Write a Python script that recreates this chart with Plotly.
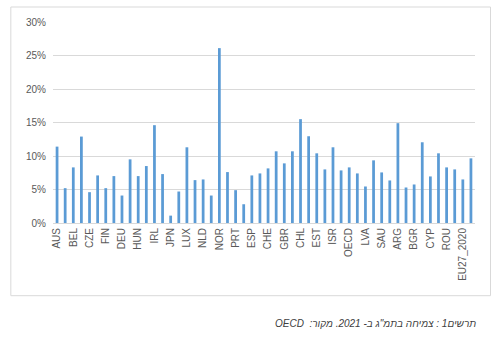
import plotly.graph_objects as go

# Country codes in chart order (every other one is labelled on the axis)
countries = [
    "AUS", "AUT", "BEL", "CAN", "CZE", "DNK", "FIN", "FRA", "DEU", "GRC",
    "HUN", "ISL", "IRL", "ITA", "JPN", "KOR", "LUX", "MEX", "NLD", "NZL",
    "NOR", "POL", "PRT", "SVK", "ESP", "SWE", "CHE", "TUR", "GBR", "USA",
    "CHL", "COL", "EST", "CRI", "ISR", "SVN", "OECD", "LTU", "LVA", "BRA",
    "SAU", "ZAF", "ARG", "CHN", "BGR", "IND", "CYP", "IDN", "ROU", "RUS",
    "EU27_2020", "EA19",
]

# GDP growth in 2021 (fraction)
growth = [
    0.114, 0.052, 0.083, 0.129, 0.046, 0.071, 0.052, 0.070, 0.041, 0.095,
    0.070, 0.085, 0.146, 0.073, 0.011, 0.047, 0.113, 0.064, 0.065, 0.041,
    0.261, 0.076, 0.049, 0.028, 0.071, 0.074, 0.0815, 0.107, 0.089, 0.107,
    0.155, 0.1295, 0.104, 0.080, 0.113, 0.0785, 0.083, 0.074, 0.0545, 0.0935,
    0.0755, 0.0635, 0.149, 0.053, 0.0575, 0.1205, 0.0695, 0.104, 0.083, 0.080,
    0.065, 0.0965,
]

labelled = countries[::2]

y_ticks = [0, 0.05, 0.10, 0.15, 0.20, 0.25, 0.30]

caption = "\u202bתרשים1 : צמיחה בתמ\"ג ב- 2021. מקור:  OECD\u202c"

fig = go.Figure(
    go.Bar(
        x=countries,
        y=growth,
        marker=dict(color="#5B9BD5", line=dict(width=0)),
        hoverinfo="x+y",
    )
)

fig.update_layout(
    width=502,
    height=344,
    margin=dict(l=53, r=27, t=22, b=121),
    paper_bgcolor="white",
    plot_bgcolor="white",
    bargap=0.66,
    showlegend=False,
    font=dict(family="Liberation Sans, Arial, sans-serif", size=10, color="#595959"),
    xaxis=dict(
        type="category",
        categoryorder="array",
        categoryarray=countries,
        tickmode="array",
        tickvals=labelled,
        ticktext=labelled,
        tickangle=-90,
        ticks="",
        showgrid=False,
        showline=True,
        linecolor="#d9d9d9",
        linewidth=1,
        tickfont=dict(size=10, color="#595959"),
    ),
    yaxis=dict(
        range=[0, 0.30],
        tickvals=y_ticks,
        tickformat=".0%",
        showgrid=True,
        gridcolor="#d9d9d9",
        gridwidth=1,
        zeroline=False,
        showline=False,
        ticks="",
        ticklabelstandoff=6,
        tickfont=dict(size=10, color="#595959"),
    ),
    shapes=[
        dict(
            type="rect",
            xref="paper",
            yref="paper",
            x0=-0.0999,
            x1=1.0367,
            y0=-0.3617,
            y1=1.0746,
            line=dict(color="#d9d9d9", width=1),
            fillcolor="rgba(0,0,0,0)",
            layer="below",
        )
    ],
    annotations=[
        dict(
            text=f"<i>{caption}</i>",
            xref="paper",
            yref="paper",
            x=1.006,
            y=-0.501,
            xanchor="right",
            yanchor="middle",
            showarrow=False,
            font=dict(family="Liberation Sans, Arial, sans-serif", size=10, color="#404040"),
        )
    ],
)

fig.write_html("out.html")
